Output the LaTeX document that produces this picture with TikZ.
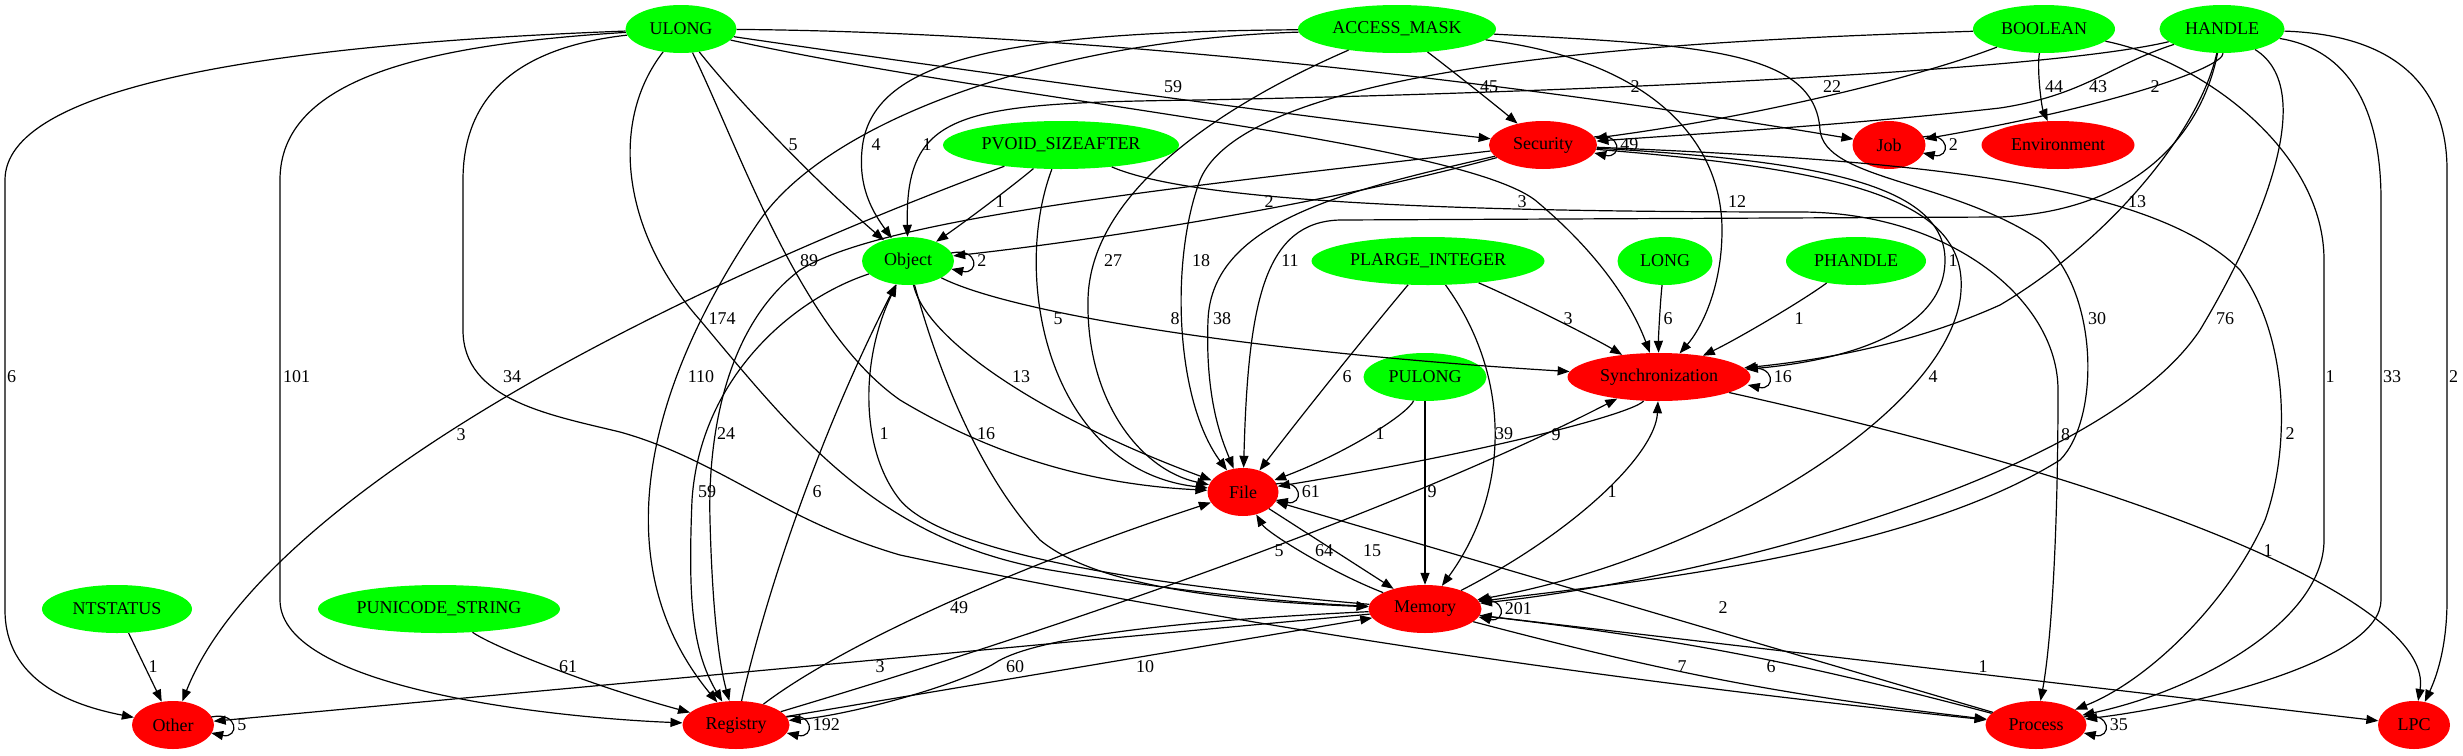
\documentclass[tikz,border=0pt]{standalone}
\usepackage{fontspec}
\setmainfont{Liberation Serif}
\usetikzlibrary{shapes.geometric,arrows.meta,calc}
\definecolor{tgreen}{RGB}{0,255,0}
\definecolor{tred}{RGB}{255,0,0}
\newcommand\lbfont{\fontsize{18}{20}\selectfont}
\newcommand\edgevia[5]{%
  \node[lbl] (#1#2) at (#4) {#5};
  \draw[conn] (#1) .. controls ($1.3333*(#3)-0.3333*(#2)$) and ($1.3333*(#3)-0.3333*(#1)$) .. (#2);
}
\newcommand\selfloop[2]{%
  \draw[conn] ($(#1.east)+(-3,8)$) .. controls +(28,6) and +(28,-6) .. ($(#1.east)+(-3,-8)$);
  \node[lbl,anchor=west] at ($(#1.east)+(23,0)$) {#2};
}
\begin{document}
\begin{tikzpicture}[x=1pt,y=1pt,
    typ/.style={ellipse, fill=tgreen, inner sep=0pt, minimum height=48pt, font=\lbfont},
    cat/.style={ellipse, fill=tred, inner sep=0pt, minimum height=48pt, font=\lbfont},
    conn/.style={line width=1.2pt, -{Triangle[length=12pt,width=9pt]}},
    lbl/.style={inner sep=0pt, font=\lbfont}]
   \fill[white] (0,0) rectangle (2463,-755);
   \node[typ, minimum width=111pt] (ulong) at (681,-29) {ULONG};
   \node[typ, minimum width=198pt] (amask) at (1397,-29) {ACCESS\_MASK};
   \node[typ, minimum width=142pt] (bool) at (2044,-29) {BOOLEAN};
   \node[typ, minimum width=125pt] (handle) at (2222,-29) {HANDLE};
   \node[typ, minimum width=236pt] (pvoid) at (1061,-145) {PVOID\_SIZEAFTER};
   \node[cat, minimum width=108pt] (sec) at (1543,-145) {Security};
   \node[cat, minimum width=73pt] (job) at (1889,-145) {Job};
   \node[cat, minimum width=153pt] (env) at (2058,-145) {Environment};
   \node[typ, minimum width=92pt] (obj) at (908,-261) {Object};
   \node[typ, minimum width=233pt] (plarge) at (1428,-261) {PLARGE\_INTEGER};
   \node[typ, minimum width=95pt] (long) at (1665,-261) {LONG};
   \node[typ, minimum width=140pt] (phandle) at (1856,-261) {PHANDLE};
   \node[typ, minimum width=123pt] (pulong) at (1425,-377) {PULONG};
   \node[cat, minimum width=183pt] (sync) at (1659,-377) {Synchronization};
   \node[cat, minimum width=71pt] (file) at (1243,-492) {File};
   \node[typ, minimum width=150pt] (ntstatus) at (117,-609) {NTSTATUS};
   \node[typ, minimum width=242pt] (puni) at (439,-609) {PUNICODE\_STRING};
   \node[cat, minimum width=113pt] (mem) at (1425,-609) {Memory};
   \node[cat, minimum width=82pt] (other) at (173,-725) {Other};
   \node[cat, minimum width=107pt] (reg) at (736,-725) {Registry};
   \node[cat, minimum width=101pt] (proc) at (2036,-725) {Process};
   \node[cat, minimum width=72pt] (lpc) at (2414,-725) {LPC};

   \draw[conn] (ulong) .. controls (250,-45) and (5,-90) .. (5,-180) -- (5,-610) .. controls (5,-680) and (70,-705) .. (other);
   \node[lbl, anchor=west] at (7,-377) {6};
   \draw[conn] (ulong) .. controls (420,-45) and (280,-80) .. (280,-180) -- (280,-600) .. controls (280,-690) and (560,-718) .. (reg);
   \node[lbl, anchor=west] at (283,-377) {101};
   \draw[conn] (ulong) .. controls (540,-45) and (463,-80) .. (463,-180) -- (463,-330) .. controls (463,-400) and (550,-415) .. (620,-432) .. controls (720,-460) and (780,-520) .. (900,-555) .. controls (1300,-640) and (1700,-690) .. (proc);
   \node[lbl] at (512,-377) {34};
   \edgevia{ulong}{obj}{784,-145}{793,-145}{5}
   \edgevia{ulong}{sec}{1150,-95}{1173,-87}{59}
   \edgevia{ulong}{job}{1250,-60}{1635,-87}{2}
   \draw[conn] (ulong) .. controls (1000,-100) and (1455,-140) .. (1535,-200) .. controls (1595,-250) and (1630,-300) .. (sync);
   \node[lbl] at (1522,-202) {3};
   \draw[conn] (ulong) .. controls (740,-150) and (800,-330) .. (900,-400) .. controls (1000,-460) and (1100,-485) .. (file);
   \node[lbl] at (809,-261) {89};
   \draw[conn] (ulong) .. controls (610,-120) and (620,-230) .. (700,-320) .. controls (800,-440) and (880,-540) .. (1050,-570) .. controls (1200,-595) and (1300,-603) .. (mem);
   \node[lbl] at (722,-319) {174};

   \edgevia{amask}{sec}{1472,-87}{1489,-87}{45}
   \draw[conn] (amask) .. controls (1000,-32) and (870,-60) .. (862,-150) .. controls (858,-190) and (875,-215) .. (obj);
   \node[lbl] at (876,-145) {4};
   \draw[conn] (amask) .. controls (1050,-40) and (830,-120) .. (760,-220) .. controls (650,-380) and (600,-560) .. (reg);
   \node[lbl] at (701,-377) {110};
   \draw[conn] (amask) .. controls (1280,-80) and (1090,-170) .. (1088,-300) .. controls (1086,-400) and (1140,-470) .. (file);
   \node[lbl] at (1113,-261) {27};
   \draw[conn] (amask) .. controls (1650,-60) and (1722,-140) .. (1722,-230) .. controls (1722,-290) and (1700,-330) .. (sync);
   \node[lbl] at (1737,-202) {12};
   \draw[conn] (amask) .. controls (1700,-45) and (1815,-50) .. (1820,-130) .. controls (1825,-180) and (1950,-180) .. (2040,-240) .. controls (2100,-290) and (2100,-420) .. (2060,-460) .. controls (1900,-560) and (1600,-585) .. (mem);
   \node[lbl] at (2097,-319) {30};

   \edgevia{bool}{sec}{1820,-96}{1832,-87}{22}
   \edgevia{bool}{env}{2042,-87}{2054,-87}{44}
   \draw[conn] (bool) .. controls (1700,-40) and (1250,-60) .. (1200,-180) .. controls (1170,-260) and (1175,-400) .. (file);
   \node[lbl] at (1201,-261) {18};
   \draw[conn] (bool) .. controls (2200,-60) and (2324,-150) .. (2324,-260) -- (2324,-540) .. controls (2324,-620) and (2200,-690) .. (proc);
   \node[lbl] at (2330,-377) {1};

   \draw[conn] (handle) .. controls (2110,-65) and (2085,-95) .. (2000,-108) .. controls (1850,-125) and (1680,-135) .. (sec);
   \node[lbl] at (2098,-87) {43};
   \edgevia{handle}{job}{2140,-87}{2155,-87}{2}
   \draw[conn] (handle) .. controls (2050,-70) and (1600,-92) .. (1200,-100) .. controls (960,-103) and (905,-110) .. (obj);
   \node[lbl] at (927,-145) {1};
   \draw[conn] (handle) .. controls (2205,-120) and (2150,-210) .. (2000,-217) -- (1340,-220) .. controls (1265,-222) and (1248,-300) .. (file);
   \node[lbl] at (1290,-261) {11};
   \draw[conn] (handle) .. controls (2200,-130) and (2110,-240) .. (2000,-305) .. controls (1900,-350) and (1800,-362) .. (sync);
   \node[lbl] at (2137,-202) {13};
   \draw[conn] (handle) .. controls (2320,-90) and (2260,-230) .. (2200,-330) .. controls (2100,-480) and (1700,-580) .. (mem);
   \node[lbl] at (2225,-319) {76};
   \draw[conn] (handle) .. controls (2350,-50) and (2381,-110) .. (2381,-200) -- (2381,-600) .. controls (2381,-660) and (2200,-705) .. (proc);
   \node[lbl, anchor=west] at (2383,-377) {33};
   \draw[conn] (handle) .. controls (2400,-35) and (2447,-90) .. (2447,-170) -- (2447,-600) .. controls (2447,-650) and (2435,-680) .. (lpc);
   \node[lbl, anchor=west] at (2449,-377) {2};

   \edgevia{pvoid}{other}{452,-435}{461,-435}{3}
   \edgevia{pvoid}{obj}{990,-202}{1000,-202}{1}
   \draw[conn] (pvoid) .. controls (1010,-280) and (1050,-470) .. (file);
   \node[lbl] at (1058,-319) {5};
   \draw[conn] (pvoid) .. controls (1200,-205) and (1500,-212) .. (1800,-212) .. controls (1950,-212) and (2058,-300) .. (2058,-390) .. controls (2058,-550) and (2050,-650) .. (proc);
   \node[lbl, anchor=west] at (2061,-435) {8};

   \edgevia{sec}{obj}{1245,-212}{1269,-202}{2}
   \draw[conn] (sec) .. controls (1150,-190) and (880,-220) .. (800,-270) .. controls (720,-330) and (708,-450) .. (710,-520) .. controls (712,-600) and (718,-660) .. (reg);
   \node[lbl] at (726,-434) {24};
   \draw[conn] (sec) .. controls (1350,-190) and (1212,-220) .. (1208,-320) .. controls (1205,-400) and (1222,-440) .. (file);
   \node[lbl] at (1222,-319) {38};
   \draw[conn] (sec) .. controls (1800,-160) and (1945,-180) .. (1945,-260) .. controls (1945,-330) and (1850,-360) .. (sync);
   \node[lbl] at (1953,-261) {1};
   \draw[conn] (sec) .. controls (1850,-170) and (1975,-200) .. (1960,-300) .. controls (1940,-420) and (1700,-560) .. (mem);
   \node[lbl] at (1933,-377) {4};
   \draw[conn] (sec) .. controls (1900,-160) and (2150,-180) .. (2240,-270) .. controls (2290,-340) and (2290,-450) .. (2265,-520) .. controls (2230,-600) and (2150,-680) .. (proc);
   \node[lbl] at (2290,-434) {2};

   \edgevia{obj}{file}{1005,-377}{1021,-377}{13}
   \edgevia{obj}{sync}{1175,-330}{1175,-319}{8}
   \draw[conn] (obj) .. controls (935,-360) and (975,-470) .. (1040,-540) .. controls (1100,-590) and (1250,-602) .. (mem);
   \node[lbl] at (986,-434) {16};
   \draw[conn] (obj) .. controls (790,-300) and (700,-380) .. (692,-500) .. controls (688,-600) and (692,-650) .. (reg);
   \node[lbl] at (707,-492) {59};

   \edgevia{plarge}{file}{1333,-377}{1347,-377}{6}
   \edgevia{plarge}{sync}{1553,-319}{1568,-319}{3}
   \edgevia{plarge}{mem}{1490,-434}{1504,-434}{39}
   \edgevia{long}{sync}{1660,-319}{1668,-319}{6}
   \edgevia{phandle}{sync}{1768,-319}{1799,-319}{1}
   \edgevia{pulong}{file}{1366,-434}{1380,-434}{1}
   \draw[conn] (pulong) -- (mem);
   \node[lbl] at (1432,-492) {9};

   \edgevia{sync}{file}{1538,-432}{1556,-435}{9}
   \edgevia{sync}{lpc}{2240,-551}{2268,-551}{1}
   \draw[conn] (file) -- (mem);
   \node[lbl] at (1372,-551) {15};

   \edgevia{mem}{file}{1306,-551}{1324,-551}{64}
   \edgevia{mem}{sync}{1598,-492}{1612,-492}{1}
   \draw[conn] (mem) .. controls (1200,-590) and (950,-560) .. (900,-500) .. controls (860,-450) and (860,-360) .. (obj);
   \node[lbl] at (884,-434) {1};
   \draw[conn] (mem) -- (other);
   \node[lbl] at (880,-667) {3};
   \draw[conn] (mem) .. controls (1150,-622) and (1030,-640) .. (995,-663) .. controls (960,-685) and (850,-715) .. (reg);
   \node[lbl] at (1015,-667) {60};
   \draw[conn] (mem) -- (lpc);
   \node[lbl] at (1983,-667) {1};
   \draw[conn] (mem) to[bend right=4] (proc);
   \node[lbl] at (1682,-667) {7};
   \draw[conn] (proc) to[bend right=4] (mem);
   \node[lbl] at (1771,-667) {6};
   \draw[conn] (proc) -- (file);
   \node[lbl] at (1723,-608) {2};

   \edgevia{reg}{obj}{806,-492}{817,-492}{6}
   \edgevia{reg}{file}{940,-608}{959,-608}{49}
   \edgevia{reg}{sync}{1262,-550}{1279,-551}{5}
   \draw[conn] (reg) -- (mem);
   \node[lbl] at (1145,-667) {10};
   \draw[conn] (ntstatus) -- (other);
   \node[lbl] at (153,-667) {1};
   \edgevia{puni}{reg}{555,-667}{568,-667}{61}

   \selfloop{sec}{49}
   \selfloop{job}{2}
   \selfloop{obj}{2}
   \selfloop{sync}{16}
   \selfloop{file}{61}
   \selfloop{mem}{201}
   \selfloop{other}{5}
   \selfloop{reg}{192}
   \selfloop{proc}{35}
\end{tikzpicture}
\end{document}
